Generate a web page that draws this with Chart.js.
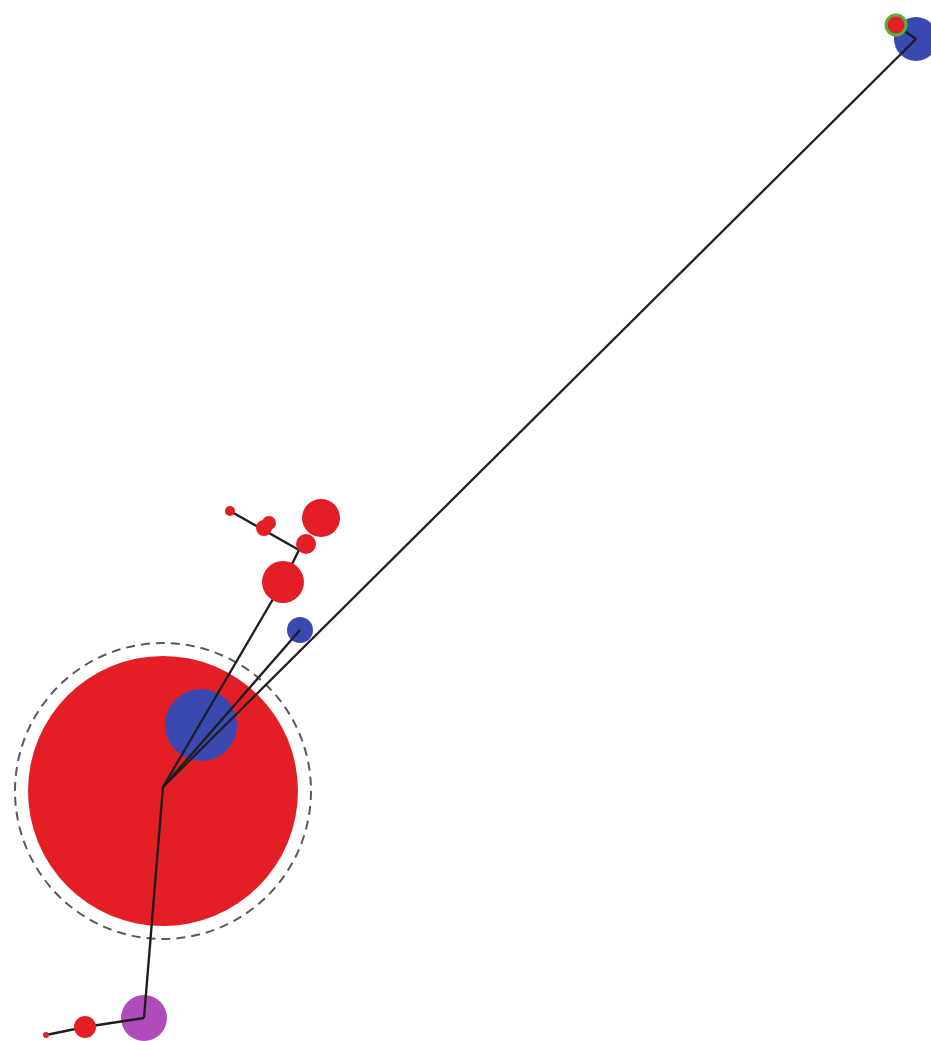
<!DOCTYPE html>
<html>
<head>
<meta charset="utf-8">
<script src="https://cdn.jsdelivr.net/npm/chart.js@4.4.0/dist/chart.umd.min.js"></script>
<style>
  html, body { margin: 0; padding: 0; background: #fff; overflow: hidden; }
  canvas { display: block; }
</style>
</head>
<body>
<canvas id="net" width="931" height="1041"></canvas>
<script>
// ── Network data (layout coordinates, y grows downward) ──────────
const nodeIds    = ['main', 'ring', 'blueHub', 'blueSmall', 'redA', 'redB', 'redC', 'redD', 'redE', 'redTip', 'blueFar', 'redFar', 'purple', 'redLow', 'redLowTip', 'hub', 'fork'];
const nodeX      = [163, 163, 201, 300, 283, 306, 321, 264, 269, 230, 916, 896, 144, 85, 46, 163, 299];
const nodeY      = [791, 791, 725, 630, 582, 544, 518, 528, 523, 511, 39, 25, 1018, 1027, 1035, 787, 550];
const nodeSize   = [135, 148, 36, 13, 21, 10, 19, 8, 7, 5, 22, 10, 23, 11, 3, 0, 0];
const nodeGroup  = ['red', 'ring', 'blue', 'blue', 'red', 'red', 'red', 'red', 'red', 'red', 'blue', 'mixed', 'purple', 'red', 'red', 'none', 'none'];

// edges as pairs of node ids
const edges = [
  ['hub', 'redA'],
  ['hub', 'blueSmall'],
  ['hub', 'blueFar'],
  ['hub', 'purple'],
  ['redA', 'fork'],
  ['fork', 'redTip'],
  ['blueFar', 'redFar'],
  ['purple', 'redLow'],
  ['redLow', 'redLowTip'],
];

// nodes drawn beneath the edges, the rest on top
const underEdges = ['main', 'ring', 'blueHub', 'blueSmall', 'blueFar', 'purple'];

const GROUP_COLORS = {
  red:    { fill: '#e41e25', border: '#e41e25', width: 0 },
  blue:   { fill: '#3a49b2', border: '#3a49b2', width: 0 },
  purple: { fill: '#b04bbb', border: '#b04bbb', width: 0 },
  mixed:  { fill: '#e41e25', border: '#5cab3f', width: 3 },
  ring:   { fill: 'rgba(0,0,0,0)', border: '#5a5a5a', width: 2 },
};

// ── Build datasets ──────────────────────────────────────────────
const pos = id => {
  const i = nodeIds.indexOf(id);
  return { x: nodeX[i], y: nodeY[i] };
};

function nodeDataset(ids, order) {
  const list = ids.filter(id => nodeSize[nodeIds.indexOf(id)] > 0);
  const groups = list.map(id => GROUP_COLORS[nodeGroup[nodeIds.indexOf(id)]]);
  return {
    type: 'bubble',
    data: list.map(id => {
      const i = nodeIds.indexOf(id);
      return { x: nodeX[i], y: nodeY[i], r: nodeSize[i] };
    }),
    backgroundColor: groups.map(g => g.fill),
    borderColor: groups.map(g => g.border),
    borderWidth: groups.map(g => g.width),
    hoverRadius: 0,
    clip: false,
    order,
  };
}

const ringDataset = nodeDataset(['ring'], 5);
ringDataset.dashed = true;
const lowerNodes = nodeDataset(underEdges.filter(id => id !== 'ring'), 4);
const upperNodes = nodeDataset(nodeIds.filter(id => !underEdges.includes(id)), 1);

const edgeDatasets = edges.map(([a, b]) => ({
  type: 'line',
  data: [pos(a), pos(b)],
  borderColor: '#1e1e1e',
  borderWidth: 2.4,
  pointRadius: 0,
  tension: 0,
  fill: false,
  clip: false,
  order: 2,
}));

// dashed outline for the ring dataset
const dashPlugin = {
  id: 'dashRing',
  beforeDatasetDraw(chart, args) {
    if (chart.data.datasets[args.index].dashed) chart.ctx.setLineDash([9, 6]);
  },
  afterDatasetDraw(chart, args) {
    if (chart.data.datasets[args.index].dashed) chart.ctx.setLineDash([]);
  },
};

new Chart(document.getElementById('net'), {
  data: { datasets: [ringDataset, lowerNodes, ...edgeDatasets, upperNodes] },
  options: {
    responsive: false,
    animation: false,
    events: [],
    layout: { padding: 0, autoPadding: false },
    plugins: { legend: { display: false }, tooltip: { enabled: false } },
    scales: {
      x: { type: 'linear', min: 0, max: 931, display: false },
      y: { type: 'linear', min: 0, max: 1041, reverse: true, display: false },
    },
  },
  plugins: [dashPlugin],
});
</script>
</body>
</html>
